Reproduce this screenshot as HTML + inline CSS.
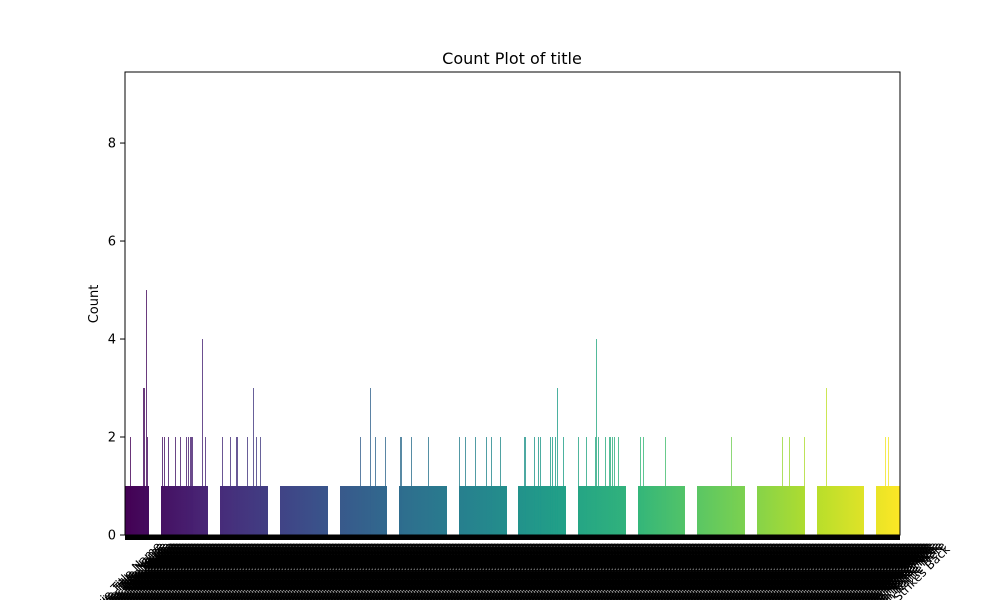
<!DOCTYPE html>
<html><head><meta charset="utf-8"><style>
html,body{margin:0;background:#fff;overflow:hidden;width:1000px;height:600px;}
svg{display:block;font-family:"DejaVu Sans","Liberation Sans",sans-serif;overflow:hidden;}
</style></head><body>
<svg id="chart" width="1000" height="600">
<text x="512" y="64" text-anchor="middle" font-size="16">Count Plot of title</text>
<text transform="translate(98,304) rotate(-90)" text-anchor="middle" font-size="13">Count</text>
<g id="bars"></g>
<g id="yaxis"></g>
<g id="xlabels"></g>
<rect x="125" y="72" width="775" height="463" fill="none" stroke="#000" stroke-width="1"/>
</svg>
<script>
const numCategories = 1550;
const yTicks = [0, 2, 4, 6, 8];
const runStarts = [0, 72, 190, 310, 430, 548, 668, 786, 906, 1026, 1144, 1264, 1384, 1502];
const runEnds   = [48, 166, 286, 406, 524, 644, 764, 882, 1002, 1120, 1240, 1360, 1478, 1550];
const spikeIdx = [10,36,38,42,44,74,78,86,100,110,122,126,130,132,134,154,160,194,210,222,224,244,256,262,270,470,490,500,520,550,552,572,606,668,680,700,722,732,750,798,800,818,826,830,850,854,860,864,876,906,922,940,942,946,960,968,970,974,978,986,1030,1036,1080,1212,1314,1328,1358,1402,1520,1526];
const spikeVal = [2,3,3,5,2,2,2,2,2,2,2,2,2,2,2,4,2,2,2,2,2,2,3,2,2,2,3,2,2,2,2,2,2,2,2,2,2,2,2,2,2,2,2,2,2,2,2,3,2,2,2,2,4,2,2,2,2,2,2,2,2,2,2,2,2,2,2,3,2,2];
const labelText = ["The Empire Strikes Back","Movie Title Name","A Long Film Name Here","Another Title Here"];

const NS="http://www.w3.org/2000/svg";
const x0=125,x1=900,yTop=72,yBase=535,yMax=9.45;
const xs=i=>x0+(i/numCategories)*(x1-x0);
const ys=v=>yBase-(v/yMax)*(yBase-yTop);
const stops=[[68,1,84],[72,40,120],[62,74,137],[49,104,142],[38,130,142],[31,158,137],[53,183,121],[110,206,88],[181,222,43],[253,231,37]];
function viridis(t){const p=t*(stops.length-1),i=Math.min(Math.floor(p),stops.length-2),f=p-i;
 const c=stops[i].map((a,k)=>Math.round(a+(stops[i+1][k]-a)*f));return `rgb(${c})`;}
const bars=document.getElementById('bars');
for(let r=0;r<runStarts.length;r++){
 const a=runStarts[r],b=runEnds[r];
 const g=document.createElementNS(NS,'linearGradient');g.id='g'+r;
 [[0,a],[1,b]].forEach(([o,i])=>{const s=document.createElementNS(NS,'stop');s.setAttribute('offset',o);s.setAttribute('stop-color',viridis(i/numCategories));g.appendChild(s);});
 bars.appendChild(g);
 const rc=document.createElementNS(NS,'rect');
 rc.setAttribute('x',xs(a));rc.setAttribute('width',xs(b)-xs(a));
 rc.setAttribute('y',ys(1));rc.setAttribute('height',yBase-ys(1));rc.setAttribute('fill','url(#g'+r+')');
 
 
 bars.appendChild(rc);
}
for(let k=0;k<spikeIdx.length;k++){
 const rc=document.createElementNS(NS,'rect');
 rc.setAttribute('x',xs(spikeIdx[k]));rc.setAttribute('width',0.8);
 rc.setAttribute('y',ys(spikeVal[k]));rc.setAttribute('height',yBase-ys(spikeVal[k]));
 rc.setAttribute('fill',viridis(spikeIdx[k]/numCategories));
 
 
 bars.appendChild(rc);
}
const ya=document.getElementById('yaxis');
yTicks.forEach(v=>{
 const l=document.createElementNS(NS,'line');l.setAttribute('x1',120);l.setAttribute('x2',125);
 l.setAttribute('y1',ys(v));l.setAttribute('y2',ys(v));l.setAttribute('stroke','#000');
 
 
 ya.appendChild(l);
 const t=document.createElementNS(NS,'text');t.setAttribute('x',116);t.setAttribute('y',ys(v)+4.5);
 t.setAttribute('text-anchor','end');t.setAttribute('font-size','13');t.textContent=v;
 
 
 ya.appendChild(t);
});
const xl=document.getElementById('xlabels');
const band=document.createElementNS(NS,'rect');band.setAttribute('x',125);band.setAttribute('y',535);
band.setAttribute('width',775);band.setAttribute('height',5);band.setAttribute('fill','#000');


xl.appendChild(band);
for(let i=0;i<numCategories;i+=2){
 const x=xs(i);
 const txt=i>=numCategories-2?labelText[0]:labelText[1+(i/2)%3];
 const half=txt.length*3.6*0.707;
 const t=document.createElementNS(NS,'text');
 t.setAttribute('transform',`translate(${x},${543+half}) rotate(-45)`);
 t.setAttribute('text-anchor','middle');t.setAttribute('font-size','12');
 t.textContent=txt;
 
 
 xl.appendChild(t);
}
</script>
</body></html>
